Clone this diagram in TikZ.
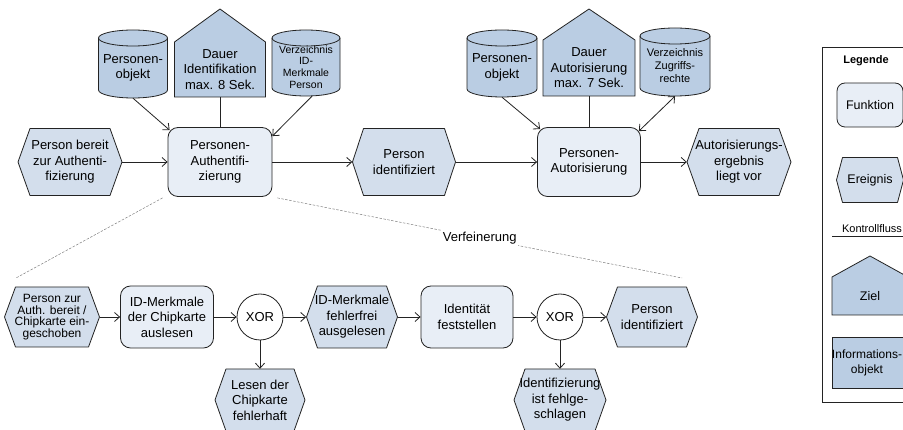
\documentclass[tikz,border=0pt]{standalone}
\usepackage{fontspec}
\setmainfont{Liberation Sans}
\usetikzlibrary{arrows.meta}
\definecolor{fnfill}{RGB}{232,238,246}
\definecolor{evfill}{RGB}{211,222,236}
\definecolor{dtfill}{RGB}{186,205,227}
\definecolor{lncol}{RGB}{35,35,35}
\tikzset{
 txt/.style={align=center, inner sep=0pt, font=\fontsize{13}{15.5}\selectfont},
 evshape/.style={fill=evfill, draw=lncol, line width=0.8pt, line join=round},
 dtshape/.style={fill=dtfill, draw=lncol, line width=0.8pt},
 dtline/.style={draw=lncol, line width=0.8pt},
 fnbox/.style={txt, draw=lncol, fill=fnfill, line width=0.8pt, rounded corners=10pt},
 xorc/.style={circle, draw=lncol, fill=white, line width=0.8pt, minimum size=46pt, inner sep=0pt, font=\fontsize{13}{15}\selectfont},
 flow/.style={draw=lncol, line width=0.8pt, -{Straight Barb[length=5pt,width=9pt]}},
 bothflow/.style={draw=lncol, line width=0.8pt, {Straight Barb[length=5pt,width=9pt]}-{Straight Barb[length=5pt,width=9pt]}},
 conn/.style={draw=lncol, line width=0.8pt},
 refine/.style={draw=gray, line width=0.5pt, dash pattern=on 2.5pt off 1.5pt},
}
\newcommand\EPCevent[8]{%
 \path[evshape] ({#2-#4/2},{-#3}) -- ({#2-#4/2+#6},{-#3+#5/2}) -- ({#2+#4/2-#6},{-#3+#5/2}) -- ({#2+#4/2},{-#3}) -- ({#2+#4/2-#6},{-#3-#5/2}) -- ({#2-#4/2+#6},{-#3-#5/2}) -- cycle;
 \node[txt, minimum width=#4pt, minimum height=#5pt, #7] (#1) at (#2,-#3) {#8};}
\newcommand\EPCgoal[7]{%
 \path[dtshape] ({#2-#6/2},-#5) -- ({#2-#6/2},-#4) -- (#2,-#3) -- ({#2+#6/2},-#4) -- ({#2+#6/2},-#5) -- cycle;
 \pgfmathsetmacro\EPCcy{-(#4+#5)/2}
 \pgfmathsetmacro\EPCh{#5-#4}
 \node[txt, minimum width=#6pt, minimum height=\EPCh pt] (#1) at (#2,\EPCcy) {#7};}
\newcommand\EPCcyl[8]{%
 \pgfmathsetmacro\EPCl{#2-#5/2}
 \pgfmathsetmacro\EPCr{#2+#5/2}
 \pgfmathsetmacro\EPCrx{#5/2}
 \path[dtshape] (\EPCl,{-#3-#6}) -- (\EPCl,{-#4+#6}) arc[start angle=180,end angle=360,x radius=\EPCrx pt,y radius=#6pt] -- (\EPCr,{-#3-#6}) arc[start angle=0,end angle=180,x radius=\EPCrx pt,y radius=#6pt] -- cycle;
 \draw[dtline] (\EPCl,{-#3-#6}) arc[start angle=180,end angle=360,x radius=\EPCrx pt,y radius=#6pt];
 \pgfmathsetmacro\EPCcy{-(#3+#6+#4)/2}
 \pgfmathsetmacro\EPCh{#4-#3-#6}
 \node[txt, minimum width=#5pt, minimum height=\EPCh pt, #7] (#1) at (#2,\EPCcy) {#8};}
\begin{document}
\begin{tikzpicture}[x=1pt,y=1pt]
\useasboundingbox (0,0) rectangle (903,-430);
\clip (0,0) rectangle (903,-430);
\fill[white] (0,0) rectangle (903,-430);

% ---------- top row ----------
\EPCevent{ev1}{70}{162}{104}{67}{12}{}{Person bereit\\zur Authenti-\\fizierung}
\node[fnbox, minimum width=104pt, minimum height=69pt] (fn1) at (220,-162) {Personen-\\Authentifi-\\zierung};
\EPCcyl{cyl1}{133}{30}{98}{69}{8}{}{Personen-\\objekt}
\EPCgoal{goal1}{220}{9}{42}{97}{91}{Dauer\\Identifikation\\max. 8 Sek.}
\EPCcyl{cyl2}{306}{30}{96}{68}{8}{font=\fontsize{10.5}{11.7}\selectfont}{Verzeichnis\\ID-\\Merkmale\\Person}
\EPCevent{ev2}{404}{162}{103}{67}{11}{}{Person\\identifiziert}
\node[fnbox, minimum width=103pt, minimum height=69pt] (fn2) at (589,-162) {Personen-\\Autorisierung};
\EPCcyl{cyl3}{502}{30}{97}{70}{8}{}{Personen-\\objekt}
\EPCgoal{goal2}{589}{9}{40}{96}{92}{Dauer\\Autorisierung\\max. 7 Sek.}
\EPCcyl{cyl4}{675}{28}{96}{70}{8}{font=\fontsize{11}{13}\selectfont}{Verzeichnis\\Zugriffs-\\rechte}
\EPCevent{ev3}{739}{162}{104}{67}{12}{}{Autorisierungs-\\ergebnis\\liegt vor}

\draw[flow] (ev1.east) -- (fn1.west);
\draw[flow] (fn1.east) -- (ev2.west);
\draw[flow] (ev2.east) -- (fn2.west);
\draw[flow] (fn2.east) -- (ev3.west);
\draw[flow] (cyl1.south) -- ([xshift=2pt,yshift=-3pt]fn1.north west);
\draw[conn] (goal1.south) -- (fn1.north);
\draw[flow] ([xshift=6pt]cyl2.south) -- ([yshift=-9pt]fn1.north east);
\draw[flow] (cyl3.south) -- ([xshift=3pt,yshift=-2pt]fn2.north west);
\draw[conn] (goal2.south) -- (fn2.north);
\draw[bothflow] (cyl4.south) -- ([xshift=-2pt,yshift=-4pt]fn2.north east);

% ---------- refinement ----------
\coordinate (r1) at (16,-278);
\coordinate (r2) at (682,-278);
\draw[refine] ([xshift=-5pt,yshift=-1pt]fn1.south west) -- (r1);
\draw[refine] ([xshift=5pt,yshift=-1pt]fn1.south east) -- node[txt, fill=white, inner sep=1.5pt] (vf) {Verfeinerung} (r2);

% ---------- bottom row ----------
\EPCevent{ev4}{52}{317}{95}{60}{11}{font=\fontsize{12}{11.6}\selectfont}{Person zur\\Auth. bereit /\\Chipkarte ein-\\geschoben}
\node[fnbox, minimum width=93pt, minimum height=62pt] (fn3) at (167,-317) {ID-Merkmale\\der Chipkarte\\auslesen};
\node[xorc] (xor1) at (260,-317) {XOR};
\EPCevent{ev5}{352}{317}{91}{62}{11}{}{ID-Merkmale\\fehlerfrei\\ausgelesen}
\EPCevent{ev6}{260}{400}{90}{62}{11}{}{Lesen der\\Chipkarte\\fehlerhaft}
\node[fnbox, minimum width=92pt, minimum height=62pt] (fn4) at (467,-317) {Identität\\feststellen};
\node[xorc] (xor2) at (560,-317) {XOR};
\EPCevent{ev7}{652}{317}{91}{60}{11}{}{Person\\identifiziert}
\EPCevent{ev8}{560}{400}{92}{62}{11}{}{Identifizierung\\ist fehlge-\\schlagen}

\draw[flow] (ev4.east) -- (fn3.west);
\draw[flow] (fn3.east) -- (xor1.west);
\draw[flow] (xor1.east) -- (ev5.west);
\draw[flow] (xor1.south) -- (ev6.north);
\draw[flow] (ev5.east) -- (fn4.west);
\draw[flow] (fn4.east) -- (xor2.west);
\draw[flow] (xor2.east) -- (ev7.west);
\draw[flow] (xor2.south) -- (ev8.north);

% ---------- legend ----------
\node[draw=lncol, line width=0.8pt, minimum width=96pt, minimum height=355pt, inner sep=0pt] (legend) at (870,-224.5) {};
\node[font=\fontsize{11}{13}\selectfont\bfseries] (lgt) at (866,-61) {Legende};
\node[fnbox, minimum width=66pt, minimum height=44pt, rounded corners=8pt, font=\fontsize{12.5}{15}\selectfont] (lfn) at (870,-105) {Funktion};
\EPCevent{lev}{870}{180}{67}{45}{6}{font=\fontsize{12.5}{15}\selectfont}{Ereignis}
\coordinate (kfa) at (832,-236);
\coordinate (kfb) at (910,-236);
\draw[flow] (kfa) -- (kfb);
\node[font=\fontsize{11}{13}\selectfont] (kft) at (872,-229) {Kontrollfluss};
\EPCgoal{lgoal}{870}{256}{277}{315}{76}{\fontsize{12.5}{15}\selectfont Ziel}
\node[draw=lncol, fill=dtfill, line width=0.8pt, minimum width=76pt, minimum height=51pt] (linfo) at (870,-362.5) {};
\node[txt, font=\fontsize{12}{15}\selectfont] (linfot) at (867,-362.5) {Informations-\\objekt};
\end{tikzpicture}
\end{document}
